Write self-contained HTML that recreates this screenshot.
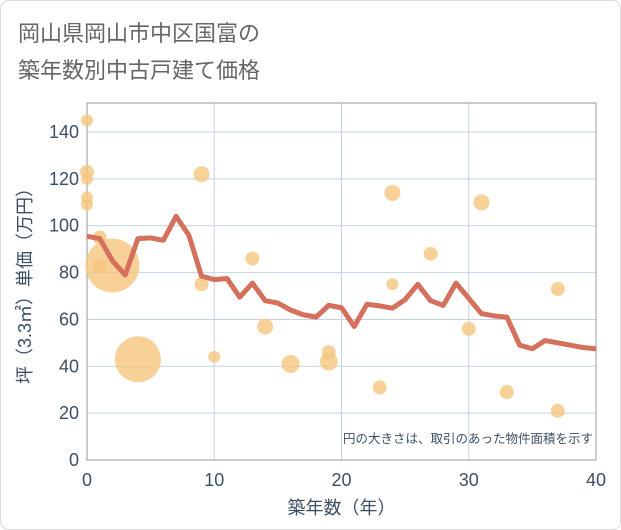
<!DOCTYPE html>
<html><head><meta charset="utf-8"><style>
body{margin:0;background:#fff;font-family:"Liberation Sans","Noto Sans CJK JP",sans-serif;}
#wrap{position:relative;width:621px;height:530px;overflow:hidden;}
</style></head><body>
<div id="wrap">
<svg id="chart" width="621" height="530" style="position:absolute;left:0;top:0">
<rect x="0.5" y="0.5" width="620" height="529" rx="8" fill="#fff" stroke="#ddd"/>
<text x="18" y="41" font-size="22" fill="#666" font-family="Liberation Sans, Noto Sans CJK JP, sans-serif">岡山県岡山市中区国富の</text>
<text x="18" y="78" font-size="22" fill="#666" font-family="Liberation Sans, Noto Sans CJK JP, sans-serif">築年数別中古戸建て価格</text>
</svg>
</div>
<script>
const lineX=[0,1,2,3,4,5,6,7,8,9,10,11,12,13,14,15,16,17,18,19,20,21,22,23,24,25,26,27,28,29,30,31,32,33,34,35,36,37,38,39,40];
const lineY=[95.5,94.5,85,79,94.5,94.8,93.8,104,96,78.5,77,77.5,69.5,75.5,68,67,64,62,61,66,65,57,66.5,65.8,64.8,68.5,75,68,66,75.5,69,62.5,61.5,61,49,47.5,51,50,49,48,47.5];
const ptX=[0,0,0,0,0,1,1,2,4,9,9,10,13,14,16,19,19,23,24,24,27,30,31,33,37,37];
const ptY=[145,123,120,112,109,95,83,83,43,122,75,44,86,57,41,46,42,31,114,75,88,56,110,29,73,21];
const ptR=[6,7,6,6,6,7,7,27,23,8,7,6,7,8,9,7,9,7,8,6,7,7,8,7,7,7];
const xTicks=[0,10,20,30,40];
const yTicks=[0,20,40,60,80,100,120,140];
const L=87,R=596,T=103,B=460;
const sx=v=>L+(v-0)*(R-L)/40;
const sy=v=>B-v*(B-T)/152.4;
const svg=document.getElementById('chart');
const NS='http://www.w3.org/2000/svg';
function mk(tag,attrs){const e=document.createElementNS(NS,tag);for(const k in attrs)e.setAttribute(k,attrs[k]);svg.appendChild(e);return e;}
const bg=mk('rect',{x:L,y:T,width:R-L,height:B-T,fill:'#fff'});


yTicks.forEach(v=>{
 const g=mk('line',{x1:L,x2:R,y1:sy(v),y2:sy(v),stroke:'#c5d3e2','stroke-width':1});
 
 
 const t=mk('text',{x:L-8,y:sy(v)+6,'text-anchor':'end','font-size':18,fill:'#3d4f63'});
 t.textContent=v;
 
 
});
xTicks.forEach(v=>{
 const g=mk('line',{x1:sx(v),x2:sx(v),y1:T,y2:B,stroke:'#c5d3e2','stroke-width':1});
 
 
 const t=mk('text',{x:sx(v),y:B+26,'text-anchor':'middle','font-size':18,fill:'#3d4f63'});
 t.textContent=v;
 
 
});
const fr=mk('rect',{x:L,y:T,width:R-L,height:B-T,fill:'none',stroke:'#999','stroke-width':1});


ptX.forEach((x,i)=>{
 const c=mk('circle',{cx:sx(x),cy:sy(ptY[i]),r:ptR[i],fill:'#f5c57e','fill-opacity':0.8});
 
 
});
const p=mk('polyline',{points:lineX.map((x,i)=>sx(x)+','+sy(lineY[i])).join(' '),fill:'none',stroke:'#d4705c','stroke-width':5,'stroke-linejoin':'round'});


const note=mk('text',{x:R-3,y:B-17,'text-anchor':'end','font-size':12.5,fill:'#3d4f63','font-family':'Liberation Sans, Noto Sans CJK JP, sans-serif'});
note.textContent='円の大きさは、取引のあった物件面積を示す';


const xt=mk('text',{x:(L+R)/2,y:514,'text-anchor':'middle','font-size':18,fill:'#3d4f63','font-family':'Liberation Sans, Noto Sans CJK JP, sans-serif'});
xt.textContent='築年数（年）';


const yt=mk('text',{x:0,y:0,'text-anchor':'middle','font-size':18,fill:'#3d4f63','font-family':'Liberation Sans, Noto Sans CJK JP, sans-serif',transform:'translate(31,'+((T+B)/2)+') rotate(-90)'});
yt.textContent='坪（3.3㎡）単価（万円）';


</script>
</body></html>
